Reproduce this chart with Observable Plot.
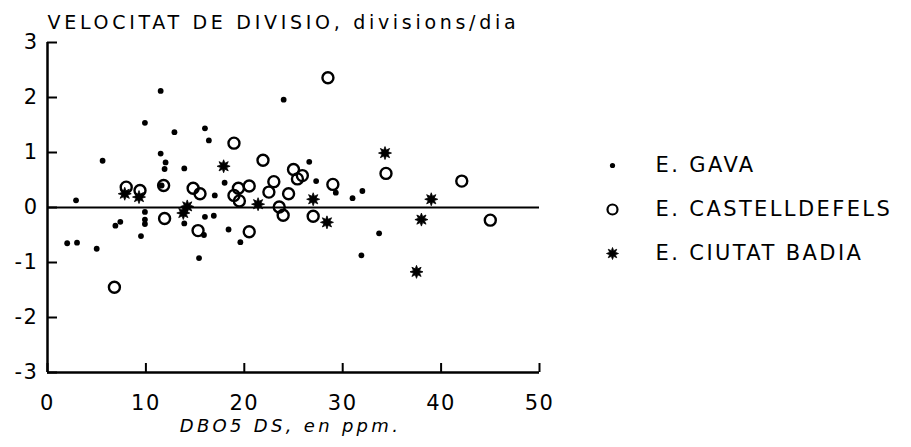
<!DOCTYPE html>
<html><head><meta charset="utf-8">
<script src="https://cdn.jsdelivr.net/npm/d3@7"></script>
<script src="https://cdn.jsdelivr.net/npm/@observablehq/plot@0.6"></script>
<style>
body{margin:0;background:#fff;}
#wrap{position:relative;width:911px;height:447px;overflow:hidden;}
#legend{position:absolute;left:560px;top:140px;}
</style></head><body><div id="wrap"><div id="chart"></div><div id="legend"></div></div>
<script>
const titleText = "VELOCITAT DE DIVISIO, divisions/dia";
const xLabelText = "DBO5 DS, en ppm.";
const seriesNames = ["E. GAVA", "E. CASTELLDEFELS", "E. CIUTAT BADIA"];
const xTicks = [0, 10, 20, 30, 40, 50];
const yTicks = [-3, -2, -1, 0, 1, 2, 3];

// E. GAVA (small filled dots)
const gavaX = [11.5, 9.9, 12.9, 16.0, 16.4, 11.5, 5.6, 12.0, 11.9, 13.9, 11.6, 2.9, 9.9, 9.9, 9.9, 6.9, 7.4, 9.5, 13.9, 15.9, 16.0, 16.9, 2.0, 3.0, 5.0, 15.4, 24.0, 26.6, 27.3, 29.3, 18.0, 17.0, 31.0, 32.0, 18.4, 19.6, 31.9, 33.7];
const gavaY = [2.12, 1.54, 1.37, 1.44, 1.22, 0.98, 0.85, 0.82, 0.70, 0.71, 0.40, 0.13, -0.08, -0.22, -0.30, -0.33, -0.26, -0.52, -0.29, -0.50, -0.17, -0.15, -0.65, -0.64, -0.75, -0.92, 1.96, 0.83, 0.48, 0.27, 0.45, 0.22, 0.17, 0.30, -0.40, -0.63, -0.87, -0.47];

// E. CASTELLDEFELS (open circles)
const castX = [28.5, 18.95, 21.9, 25.0, 25.9, 25.4, 29.0, 20.5, 19.4, 18.95, 19.5, 23.0, 22.5, 24.5, 23.55, 23.95, 27.0, 20.5, 11.8, 8.0, 9.4, 14.8, 15.5, 11.9, 15.3, 6.8, 34.4, 42.1, 45.0];
const castY = [2.36, 1.17, 0.86, 0.69, 0.58, 0.52, 0.42, 0.39, 0.35, 0.22, 0.12, 0.47, 0.28, 0.25, 0.01, -0.14, -0.16, -0.44, 0.40, 0.37, 0.31, 0.35, 0.25, -0.20, -0.42, -1.45, 0.62, 0.48, -0.23];

// E. CIUTAT BADIA (stars)
const badiaX = [7.85, 9.3, 14.2, 13.8, 17.9, 21.4, 27.0, 28.4, 34.3, 39.0, 38.0, 37.5];
const badiaY = [0.25, 0.19, 0.02, -0.10, 0.75, 0.06, 0.15, -0.27, 0.99, 0.15, -0.22, -1.17];

const toPts = (xs, ys) => xs.map((x, i) => ({x, y: ys[i]}));
const gava = toPts(gavaX, gavaY);
const cast = toPts(castX, castY);
const badia = toPts(badiaX, badiaY);

const star = {
  draw(ctx, size) {
    const R = Math.sqrt(size / Math.PI), r = R * 0.5;
    for (let i = 0; i < 16; i++) {
      const a = i * Math.PI / 8 - Math.PI / 2, rr = i % 2 ? r : R;
      const px = rr * Math.cos(a), py = rr * Math.sin(a);
      if (i) ctx.lineTo(px, py); else ctx.moveTo(px, py);
    }
    ctx.closePath();
  }
};

const font = "DejaVu Sans";
const W = 911, H = 447, mL = 47, mR = 372, mT = 42, mB = 75;
const frameW = W - mL - mR, frameH = H - mT - mB;

const chart = Plot.plot({
  width: W, height: H,
  marginLeft: mL, marginRight: mR, marginTop: mT, marginBottom: mB,
  style: {fontFamily: font, fontSize: "20px", color: "black", background: "white"},
  x: {domain: [0, 50]},
  y: {domain: [-3, 3]},
  marks: [
    Plot.ruleX([0], {stroke: "black", strokeWidth: 2.5}),
    Plot.ruleY([-3], {stroke: "black", strokeWidth: 2.5}),
    Plot.ruleY([0], {stroke: "black", strokeWidth: 2}),
    Plot.tickX(xTicks, {x: d => d, insetTop: frameH - 9, stroke: "black", strokeWidth: 2}),
    Plot.tickY(yTicks, {y: d => d, insetRight: frameW - 10, stroke: "black", strokeWidth: 2}),
    Plot.axisX({ticks: xTicks, tickSize: 0, tickPadding: 23, tickFormat: d => String(d), label: null, fontSize: 21}),
    Plot.axisY({ticks: yTicks, tickSize: 0, tickPadding: 9, tickFormat: d => String(d), label: null, fontSize: 21}),
    Plot.dot(gava, {x: "x", y: "y", r: 2.9, fill: "black", stroke: null}),
    Plot.dot(cast, {x: "x", y: "y", r: 5.5, fill: "white", fillOpacity: 0, stroke: "black", strokeWidth: 2.4}),
    Plot.dot(badia, {x: "x", y: "y", r: 6.5, symbol: star, fill: "black", stroke: "black", strokeWidth: 0.8}),
    Plot.text([titleText], {text: d => d, frameAnchor: "top-left", dy: -14, textAnchor: "start", lineAnchor: "bottom", fontSize: 19}),
    Plot.text([xLabelText], {text: d => d, frameAnchor: "bottom", dy: 47, dx: -3, lineAnchor: "top", fontSize: 18, fontStyle: "italic"})
  ]
});
document.getElementById("chart").appendChild(chart);

const spacing = new Map([[titleText, "3.7px"], [xLabelText, "3.3px"]]);
d3.select(chart).selectAll("text").each(function() {
  const t = this.textContent;
  this.setAttribute("letter-spacing", spacing.get(t) || "1.5px");
});

const legend = Plot.plot({
  width: 351, height: 150,
  marginLeft: 0, marginRight: 0, marginTop: 0, marginBottom: 0,
  style: {fontFamily: font, fontSize: "21px", color: "black", background: "transparent"},
  y: {type: "point", domain: seriesNames, range: [24, 113], padding: 0, axis: null},
  marks: [
    Plot.dot([seriesNames[0]], {y: d => d, frameAnchor: "left", dx: 52, r: 2.6, fill: "black", stroke: null}),
    Plot.dot([seriesNames[1]], {y: d => d, frameAnchor: "left", dx: 52, r: 5, fill: "white", stroke: "black", strokeWidth: 2.2}),
    Plot.dot([seriesNames[2]], {y: d => d, frameAnchor: "left", dx: 52, r: 6, symbol: star, fill: "black", stroke: "black", strokeWidth: 0.8}),
    Plot.text(seriesNames, {y: d => d, text: d => d, frameAnchor: "left", dx: 95, textAnchor: "start", fontSize: 21})
  ]
});
document.getElementById("legend").appendChild(legend);
d3.select(legend).selectAll("text").attr("letter-spacing", "2.4px");
</script></body></html>
